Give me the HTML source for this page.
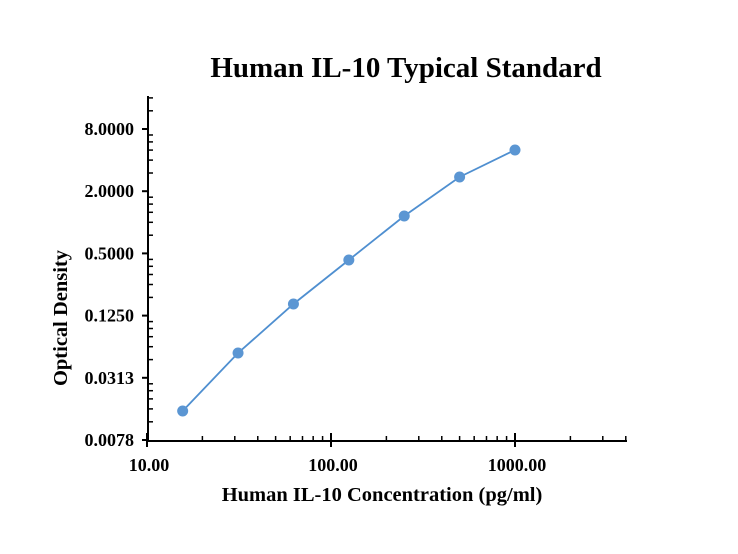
<!DOCTYPE html><html><head><style>body{margin:0;background:#fff}svg{display:block}text{font-family:"Liberation Serif",serif;font-weight:bold;fill:#000}</style></head><body>
<svg id="s" width="738" height="554" xmlns="http://www.w3.org/2000/svg">
<text x="406" y="77" font-size="29" text-anchor="middle">Human IL-10 Typical Standard</text>
<text x="382" y="501" font-size="20.5" text-anchor="middle">Human IL-10 Concentration (pg/ml)</text>
<text transform="translate(67,318) rotate(-90)" font-size="20.5" text-anchor="middle">Optical Density</text>
<g id="g" stroke="#000" stroke-width="2"></g>
<g id="d"></g>
</svg>
<script>
var g=document.getElementById('g'),d=document.getElementById('d'),ns='http://www.w3.org/2000/svg',S=document.getElementById('s');
function el(p,t,a,txt){var e=document.createElementNS(ns,t);for(var k in a)e.setAttribute(k,a[k]);if(txt)e.textContent=txt;p.appendChild(e);return e;}
function Y(v){return 440-62.2*Math.log(v/0.0078125)/Math.log(4);}
function X(c){return 147+184*Math.log10(c/10);}
el(g,'line',{x1:148,y1:96,x2:148,y2:441});
el(g,'line',{x1:147,y1:441,x2:627,y2:441});
var maj=[0.0078125,0.03125,0.125,0.5,2,8],lab=['0.0078','0.0313','0.1250','0.5000','2.0000','8.0000'];
maj.forEach(function(m,i){var y=Y(m);el(g,'line',{x1:142,y1:y,x2:148,y2:y});
el(S,'text',{x:134,y:y+6,'font-size':18,'text-anchor':'end'},lab[i]);
[1.5,2,2.5,3,3.5].forEach(function(k){var yy=Y(m*k);if(yy>96)el(g,'line',{x1:148,y1:yy,x2:153,y2:yy,'stroke-width':1.5});});});
[10,100,1000].forEach(function(m,i){var x=X(m);el(g,'line',{x1:x,y1:433,x2:x,y2:447});
el(S,'text',{x:x+2,y:471,'font-size':18,'text-anchor':'middle'},['10.00','100.00','1000.00'][i]);
for(var k=2;k<10;k++){var xx=X(m*k);if(xx<=627)el(g,'line',{x1:xx,y1:436,x2:xx,y2:441,'stroke-width':1.5});}});
var pts=[[15.625,411],[31.25,353],[62.5,304],[125,260],[250,216],[500,177],[1000,150]];
el(d,'polyline',{points:pts.map(function(p){return X(p[0])+','+p[1];}).join(' '),fill:'none',stroke:'#4f8fd0','stroke-width':1.8});
pts.forEach(function(p){el(d,'circle',{cx:X(p[0]),cy:p[1],r:5.5,fill:'#5b96d3'});});
</script></body></html>
